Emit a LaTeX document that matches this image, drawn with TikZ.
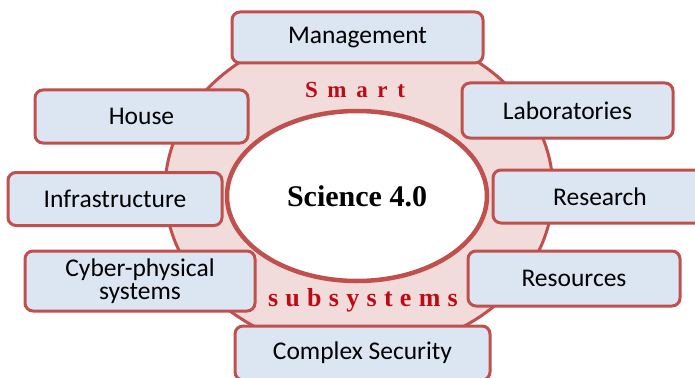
\documentclass[tikz,border=0pt]{standalone}
\usepackage{fontspec}
\usepackage{tikz}
\usetikzlibrary{positioning}
\usetikzlibrary{shapes.geometric}
\setmainfont{Liberation Serif}
\newfontfamily\boxfont{Carlito}
\newfontfamily\smartfont[LetterSpace=42]{Liberation Serif Bold}
\newfontfamily\subsfont[LetterSpace=28]{Liberation Serif Bold}
\definecolor{ringred}{RGB}{192,80,77}
\definecolor{ringpink}{RGB}{242,220,219}
\definecolor{boxblue}{RGB}{220,230,242}
\definecolor{wordred}{RGB}{190,10,20}
\tikzstyle{ring_o} = [ellipse, draw=ringred, line width=3pt, fill=ringpink, minimum width=388pt, minimum height=324pt, inner sep=0pt]
\tikzstyle{ring_i} = [ellipse, draw=ringred, line width=4.5pt, fill=white, minimum width=260pt, minimum height=170pt, inner sep=0pt, font=\bfseries\fontsize{30}{32}\selectfont]
\tikzstyle{sub_b} = [rectangle, rounded corners=8pt, draw=ringred, line width=3pt, fill=boxblue, align=center, inner sep=0pt, font=\boxfont\fontsize{25.5}{26}\selectfont]
\tikzstyle{sub_t} = [text=wordred, inner sep=0pt]

\begin{document}
\begin{tikzpicture}[x=1pt,y=-1pt]
\clip (0,0) rectangle (695,377);
\fill[white] (0,0) rectangle (695,377);
% the ring and its centre
\node [ring_o] (ring) at (359,190) {};
\node [ring_i] (core) at (357,196) {Science 4.0};
\node [sub_t, font=\smartfont\fontsize{23}{25}\selectfont] (smart) at (355,90) {Smart};
\node [sub_t, font=\subsfont\fontsize{26}{28}\selectfont] (subs) at (363,300) {subsystems};
% subsystem boxes
\node [sub_b, minimum width=251pt, minimum height=51pt] (mgmt) at (357.5,37.5) {Management};
\node [sub_b, minimum width=213pt, minimum height=53pt] (house) at (141.5,116.5) {House};
\node [sub_b, minimum width=211pt, minimum height=55pt] (labs) at (567.5,110.5) {Laboratories};
\node [sub_b, minimum width=214pt, minimum height=53pt] (infra) at (115,199) {Infrastructure};
\node [sub_b, minimum width=214pt, minimum height=53pt] (research) at (600,196.5) {Research};
\node [sub_b, minimum width=230pt, minimum height=60pt] (cps) at (140,281) {Cyber-physical\\[-3pt]systems};
\node [sub_b, minimum width=212pt, minimum height=55pt] (resources) at (574,278.5) {Resources};
\node [sub_b, minimum width=255pt, minimum height=54pt] (security) at (362.5,353) {Complex Security};
\end{tikzpicture}
\end{document}
